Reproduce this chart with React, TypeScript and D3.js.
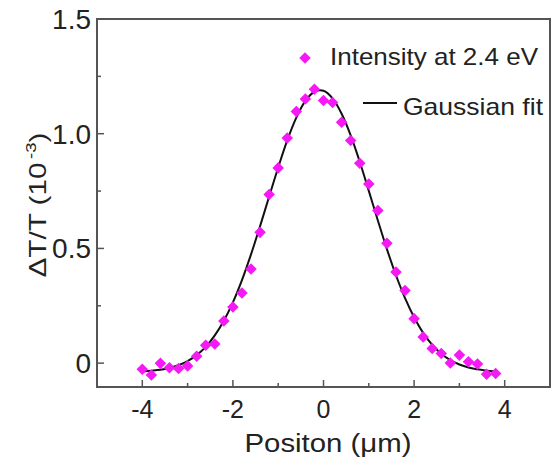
import React from "react";
import * as d3 from "d3";

// measured positions (µm) and ΔT/T values (10^-3)
const positions = [
  -4.0, -3.8, -3.6, -3.4, -3.2, -3.0, -2.8, -2.6, -2.4, -2.2,
  -2.0, -1.8, -1.6, -1.4, -1.2, -1.0, -0.8, -0.6, -0.4, -0.2,
  0.0, 0.2, 0.4, 0.6, 0.8, 1.0, 1.2, 1.4, 1.6, 1.8,
  2.0, 2.2, 2.4, 2.6, 2.8, 3.0, 3.2, 3.4, 3.6, 3.8,
];
const intensity = [
  -0.027, -0.052, -0.001, -0.02, -0.023, -0.012, 0.03, 0.078, 0.083, 0.184,
  0.245, 0.306, 0.41, 0.57, 0.735, 0.851, 0.981, 1.097, 1.151, 1.194,
  1.145, 1.136, 1.05, 0.97, 0.871, 0.781, 0.665, 0.523, 0.397, 0.317,
  0.194, 0.114, 0.064, 0.042, 0.001, 0.035, 0.006, -0.004, -0.048, -0.045,
];
const gaussFit = [
  -0.036, -0.033, -0.029, -0.021, -0.009, 0.009, 0.035, 0.071, 0.121, 0.185,
  0.265, 0.362, 0.474, 0.597, 0.726, 0.853, 0.971, 1.07, 1.143, 1.183,
  1.187, 1.154, 1.087, 0.993, 0.878, 0.751, 0.622, 0.497, 0.383, 0.283,
  0.2, 0.132, 0.08, 0.041, 0.013, -0.006, -0.019, -0.027, -0.033, -0.036,
];
const xMajor = [-4, -2, 0, 2, 4];
const xMinor = [-5, -3, -1, 1, 3, 5];
const yMajor = [0, 0.5, 1.0, 1.5];
const yMinor = [0.25, 0.75, 1.25];
const yLabels = ["0", "0.5", "1.0", "1.5"];

const W = 553;
const H = 467;
const left = 97, right = 550, top = 19, bottom = 387;
const MAGENTA = "#f51af5";
const AXIS = "#555";
const FONT = "'Liberation Sans', Arial, sans-serif";

export default function App() {
  const x = d3.scaleLinear().domain([-5, 5]).range([left, right]);
  const y = d3.scaleLinear().domain([-0.104, 1.5]).range([bottom, top]);

  const line = d3
    .line<number>()
    .x((_, i) => x(positions[i]))
    .y((d) => y(d))
    .curve(d3.curveCatmullRom);

  const diamond = d3.symbol().type(d3.symbolDiamond2).size(85)();

  return (
    <svg
      width={W}
      height={H}
      style={{ position: "absolute", left: 0, top: 0, background: "#fff" }}
      fontFamily={FONT}
    >
      {/* fit line */}
      <path d={line(gaussFit) || ""} fill="none" stroke="#111" strokeWidth={2} />

      {/* data points */}
      {intensity.map((v, i) => (
        <path
          key={i}
          d={diamond || ""}
          transform={`translate(${x(positions[i])},${y(v)})`}
          fill={MAGENTA}
        />
      ))}

      {/* frame */}
      <rect
        x={left}
        y={top}
        width={right - left}
        height={bottom - top}
        fill="none"
        stroke={AXIS}
        strokeWidth={2}
      />

      {/* x ticks */}
      {xMajor.map((t) => (
        <g key={"xM" + t}>
          <line x1={x(t)} x2={x(t)} y1={bottom} y2={bottom - 7} stroke={AXIS} strokeWidth={1.5} />
          <text x={x(t)} y={418} textAnchor="middle" fontSize={25} fill="#222">
            {t < 0 ? "-" + Math.abs(t) : t}
          </text>
        </g>
      ))}
      {xMinor.map((t) => (
        <line key={"xm" + t} x1={x(t)} x2={x(t)} y1={bottom} y2={bottom - 4} stroke={AXIS} strokeWidth={1.5} />
      ))}

      {/* y ticks */}
      {yMajor.map((t, i) => (
        <g key={"yM" + t}>
          <line x1={left} x2={left + 7} y1={y(t)} y2={y(t)} stroke={AXIS} strokeWidth={1.5} />
          <text x={91} y={y(t) + 10} textAnchor="end" fontSize={28} fill="#222">
            {yLabels[i]}
          </text>
        </g>
      ))}
      {yMinor.map((t) => (
        <line key={"ym" + t} x1={left} x2={left + 4} y1={y(t)} y2={y(t)} stroke={AXIS} strokeWidth={1.5} />
      ))}

      {/* axis titles */}
      <text
        x={328}
        y={452}
        textAnchor="middle"
        fontSize={25}
        fill="#222"
        textLength={167}
        lengthAdjust="spacingAndGlyphs"
      >
        Positon (μm)
      </text>
      <text
        transform="translate(46,205) rotate(-90)"
        textAnchor="middle"
        fontSize={24}
        fill="#222"
        textLength={145}
        lengthAdjust="spacingAndGlyphs"
      >
        ΔT/T (10
        <tspan dx={3} dy={-10} fontSize={15}>
          -3
        </tspan>
        <tspan dy={10}>)</tspan>
      </text>

      {/* legend */}
      <path d={diamond || ""} transform="translate(305,58)" fill={MAGENTA} />
      <text x={330} y={65} fontSize={24} fill="#222" textLength={208} lengthAdjust="spacingAndGlyphs">
        Intensity at 2.4 eV
      </text>
      <line x1={363} x2={397} y1={103} y2={103} stroke="#111" strokeWidth={2} />
      <text x={403} y={115} fontSize={24} fill="#222" textLength={140} lengthAdjust="spacingAndGlyphs">
        Gaussian fit
      </text>
    </svg>
  );
}
